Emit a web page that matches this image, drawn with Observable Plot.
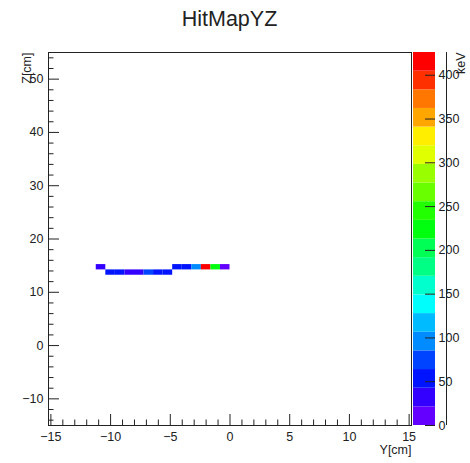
<!DOCTYPE html>
<html>
<head>
<meta charset="utf-8">
<script src="https://cdn.jsdelivr.net/npm/d3@7"></script>
<script src="https://cdn.jsdelivr.net/npm/@observablehq/plot@0.6"></script>
<style>
  html, body { margin: 0; padding: 0; background: #fff; }
  #wrap { position: relative; width: 470px; height: 463px; overflow: hidden; font-family: "Liberation Sans", Arial, sans-serif; }
  #title { position: absolute; left: 0; width: 459px; top: 9px; text-align: center; font-size: 21.5px; line-height: 21.5px; color: #222; }
  #main, #bar { position: absolute; top: 0; }
  #main { left: 0; }
  #bar { left: 413px; }
</style>
</head>
<body>
<div id="wrap">
  <div id="title">HitMapYZ</div>
  <div id="main"></div>
  <div id="bar"></div>
</div>
<script>
// ---- data ----
const binWidth = 0.8;   // cm, Y bins
const binHeight = 1.0;  // cm, Z bins
const cellY = [-10.8, -10.0, -9.2, -8.4, -7.6, -6.8, -6.0, -5.2, -4.4, -3.6, -2.8, -2.0, -1.2, -0.4];
const cellZ = [14.7, 13.7, 13.7, 13.7, 13.7, 13.7, 13.7, 13.7, 14.7, 14.7, 14.7, 14.7, 14.7, 14.7];
const cellE = [32, 50, 52, 40, 42, 70, 50, 48, 55, 50, 98, 426, 232, 20]; // keV
const xMajor = [-15, -10, -5, 0, 5, 10, 15];
const yMajor = [-10, 0, 10, 20, 30, 40, 50];
const zMajor = [0, 50, 100, 150, 200, 250, 300, 350, 400];
const xDomain = [-15.2, 15.2];
const yDomain = [-15, 55];
const zMax = 426;
const nLevels = 20;

// ---- ROOT "pretty" palette (violet -> red), 20 contour levels ----
const pretty = d3.range(49).map(i => d3.hsl(280 - (i + 1) * 5.6, 1, 0.5).formatHex()).concat(["#ff0000"]);
const colors = d3.range(nLevels).map(k => pretty[Math.floor((k + 0.99) * pretty.length / nLevels)]);
const step = zMax / nLevels;
const thresholds = d3.range(1, nLevels).map(k => k * step);
const colorScale = {type: "threshold", domain: thresholds, range: colors};

const cells = cellY.map((y, i) => ({
  x1: y - binWidth / 2, x2: y + binWidth / 2,
  y1: cellZ[i] - binHeight / 2, y2: cellZ[i] + binHeight / 2,
  v: cellE[i]
}));

const xMinor = d3.range(xDomain[0] + 0.2, xDomain[1], 1).map(Math.round).filter(v => !xMajor.includes(v));
const yMinor = d3.range(-14, 55, 2).filter(v => !yMajor.includes(v));

const W = 470, H = 463, mL = 48, mR = 59, mT = 52, mB = 38;
const fw = W - mL - mR, fh = H - mT - mB;
const ink = "#222";
const font = {fontFamily: "'Liberation Sans', Arial, sans-serif", fontSize: "12.5px", color: ink, background: "transparent", overflow: "visible"};

const main = Plot.plot({
  width: W, height: H,
  marginLeft: mL, marginRight: mR, marginTop: mT, marginBottom: mB,
  style: font,
  x: {domain: xDomain, ticks: xMajor, tickSize: 0, tickPadding: 7, label: null},
  y: {domain: yDomain, ticks: yMajor, tickSize: 0, tickPadding: 5, label: null},
  color: colorScale,
  marks: [
    Plot.rect(cells, {x1: "x1", x2: "x2", y1: "y1", y2: "y2", fill: "v"}),
    Plot.frame({stroke: ink}),
    Plot.tickX(xMinor, {x: d => d, insetTop: fh - 5.5, stroke: ink}),
    Plot.tickX(xMajor, {x: d => d, insetTop: fh - 11, stroke: ink}),
    Plot.tickY(yMinor, {y: d => d, insetRight: fw - 5.5, stroke: ink}),
    Plot.tickY(yMajor, {y: d => d, insetRight: fw - 11, stroke: ink}),
    Plot.text(["Y[cm]"], {frameAnchor: "bottom-right", textAnchor: "end", dy: 28, fill: ink, fontSize: 12.5}),
    Plot.text(["Z[cm]"], {frameAnchor: "top-left", textAnchor: "end", rotate: -90, dx: -26, dy: 0, fill: ink, fontSize: 12.5})
  ]
});
document.getElementById("main").appendChild(main);

// ---- colour bar ----
const barW = 22;
const bands = d3.range(nLevels).map(k => ({y1: k * step, y2: (k + 1) * step, v: (k + 0.5) * step}));
const bar = Plot.plot({
  width: 57, height: H,
  marginLeft: 0, marginRight: 57 - barW, marginTop: mT, marginBottom: mB,
  style: font,
  x: {axis: null},
  y: {domain: [0, zMax], ticks: zMajor, tickSize: 0, tickPadding: 3, axis: "right", label: null},
  color: colorScale,
  marks: [
    Plot.rect(bands, {y1: "y1", y2: "y2", fill: "v"}),
    Plot.ruleX([0], {frameAnchor: "right", stroke: ink, dx: barW}),
    Plot.tickY(zMajor, {y: d => d, insetLeft: barW - 10, stroke: ink}),
    Plot.text(["keV"], {frameAnchor: "top-right", textAnchor: "end", rotate: -90, dx: 21, fill: ink, fontSize: 12.5})
  ]
});
document.getElementById("bar").appendChild(bar);
</script>
</body>
</html>
